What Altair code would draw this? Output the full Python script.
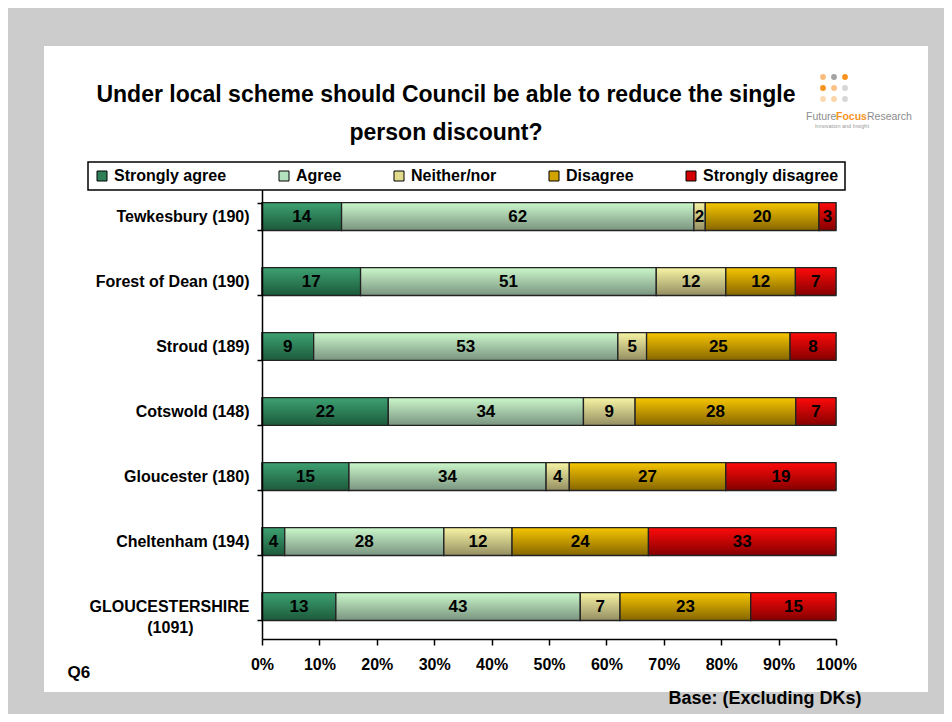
import altair as alt
import pandas as pd

# ---------------- data ----------------
regions = [
    "Tewkesbury (190)",
    "Forest of Dean (190)",
    "Stroud (189)",
    "Cotswold (148)",
    "Gloucester (180)",
    "Cheltenham (194)",
    "GLOUCESTERSHIRE (1091)",
]
responses = ["Strongly agree", "Agree", "Neither/nor", "Disagree", "Strongly disagree"]
strongly_agree = [14, 17, 9, 22, 15, 4, 13]
agree = [62, 51, 53, 34, 34, 28, 43]
neither_nor = [2, 12, 5, 9, 4, 12, 7]
disagree = [20, 12, 25, 28, 27, 24, 23]
strongly_disagree = [3, 7, 8, 7, 19, 33, 15]
x_ticks = [0, 0.1, 0.2, 0.3, 0.4, 0.5, 0.6, 0.7, 0.8, 0.9, 1.0]

title_lines = ["Under local scheme should Council be able to reduce the single", "person discount?"]

# ---------------- styles ----------------
legend_colors = ["#2E8058", "#B4E2BC", "#E2DA8C", "#D2A200", "#D00000"]
grad_top = ["#3DA272", "#CBF8CB", "#F8F5A4", "#F7C600", "#FF0A0A"]
grad_bottom = ["#1C5A3B", "#7A9480", "#948E62", "#866600", "#840000"]
logo_dot_colors = ["#F9BC7A", "#A3A3A3", "#F7941D",
                   "#F7941D", "#FBC283", "#D6D6D6",
                   "#FCDAB2", "#FCD5A8", "#D6D6D6"]
FONT = "Liberation Sans"

series = [strongly_agree, agree, neither_nor, disagree, strongly_disagree]
rows = []
for ri, reg in enumerate(regions):
    for k, resp in enumerate(responses):
        rows.append({"region": reg, "response": resp, "order": k, "value": series[k][ri]})
df = pd.DataFrame(rows)

pad = "\u2002" * 7 + "\u200b"
label_expr = ("datum.value == 'GLOUCESTERSHIRE (1091)' ? ['GLOUCESTERSHIRE', '(1091)" + pad
              + "'] : datum.value")

x_scale = alt.Scale(domain=[0, 1], nice=False, zero=True)
x_axis = alt.Axis(
    format=".0%", values=x_ticks, grid=False, zindex=1, labelFlush=False,
    title="Base: (Excluding DKs)", titleX=599, titleY=64, titleAlign="right",
    titleBaseline="alphabetic", titleFont=FONT, titleFontSize=18, titleFontWeight="bold",
    titleColor="black",
    labelFont=FONT, labelFontSize=16, labelFontWeight="bold", labelColor="black",
    labelPadding=11, tickSize=6, tickColor="black", tickWidth=1.5,
    domainColor="black", domainWidth=1.5,
)
y_axis = alt.Axis(
    title="Q6", titleAngle=0, titleX=-195, titleY=493, titleAlign="left",
    titleBaseline="alphabetic", titleFont=FONT, titleFontSize=17, titleFontWeight="bold",
    titleColor="black", zindex=1,
    labelExpr=label_expr, labelFont=FONT, labelFontSize=16, labelFontWeight="bold",
    labelColor="black", labelPadding=8, labelLimit=300, labelLineHeight=21,
    tickBand="extent", tickSize=5, tickColor="black", tickWidth=1.5,
    domainColor="black", domainWidth=1.5, grid=False,
)
y_enc = alt.Y("region:N", sort=regions,
              scale=alt.Scale(paddingInner=0.57, paddingOuter=0.285), axis=y_axis)

legend = alt.Legend(
    orient="none", legendX=-174, legendY=-22, direction="horizontal", title=None,
    symbolType="square", symbolSize=100, symbolStrokeColor="black", symbolStrokeWidth=1,
    symbolOpacity=1, labelFont=FONT, labelFontSize=16, labelFontWeight="bold",
    labelColor="black", labelOffset=4, columnPadding=49, padding=6,
    strokeColor="black", fillColor="white", labelLimit=300, zindex=2,
)

base = alt.Chart(df).transform_stack(
    stack="value", groupby=["region"],
    sort=[alt.SortField("order", order="ascending")],
    offset="normalize", as_=["x0", "x1"],
).transform_calculate(mid="(datum.x0 + datum.x1) / 2")

one = pd.DataFrame({"k": [0]})

panel = alt.Chart(one).mark_rect(fill="white").encode(
    x=alt.value(-218), x2=alt.value(666), y=alt.value(-138), y2=alt.value(508)
)

legend_layer = base.mark_bar(stroke="#222222", strokeWidth=1).encode(
    x=alt.X("x0:Q", scale=x_scale, axis=x_axis),
    x2="x1:Q",
    y=y_enc,
    color=alt.Color("response:N", scale=alt.Scale(domain=responses, range=legend_colors),
                    legend=legend),
)

grad_layers = []
for k, resp in enumerate(responses):
    grad = alt.LinearGradient(
        gradient="linear",
        stops=[alt.GradientStop(color=grad_top[k], offset=0),
               alt.GradientStop(color=grad_bottom[k], offset=1)],
        x1=0, x2=0, y1=0, y2=1,
    )
    grad_layers.append(
        base.transform_filter(alt.datum.response == resp)
        .mark_bar(fill=grad, stroke="#222222", strokeWidth=1.3)
        .encode(x=alt.X("x0:Q", scale=x_scale, axis=x_axis), x2="x1:Q", y=y_enc)
    )

labels = base.mark_text(font=FONT, fontWeight="bold", fontSize=17, color="black",
                        baseline="middle").encode(
    x=alt.X("mid:Q", scale=x_scale, axis=x_axis),
    y=y_enc,
    text="value:Q",
)

# logo
dots_df = pd.DataFrame({"idx": list(range(9)), "c": logo_dot_colors})
dots = alt.Chart(dots_df).transform_calculate(
    px="561 + (datum.idx % 3) * 11", py="-107 + floor(datum.idx / 3) * 11"
).mark_circle(size=34, opacity=1).encode(
    x=alt.X("px:Q", scale=None), y=alt.Y("py:Q", scale=None),
    color=alt.Color("c:N", scale=None, legend=None),
)
logo_future = alt.Chart(one).mark_text(text="Future", font=FONT, fontSize=10.5, color="#8C8C8C",
                                       align="left", baseline="alphabetic").encode(
    x=alt.value(544), y=alt.value(-64))
logo_focus = alt.Chart(one).mark_text(text="Focus", font=FONT, fontSize=10.5, fontWeight="bold",
                                      color="#F7941D", align="left", baseline="alphabetic").encode(
    x=alt.value(574), y=alt.value(-64))
logo_research = alt.Chart(one).mark_text(text="Research", font=FONT, fontSize=10.5, color="#8C8C8C",
                                         align="left", baseline="alphabetic").encode(
    x=alt.value(605), y=alt.value(-64))
logo_tag = alt.Chart(one).mark_text(text="Innovation and Insight", font=FONT, fontSize=5.5,
                                    color="#9A9A9A", align="center", baseline="alphabetic").encode(
    x=alt.value(580), y=alt.value(-56))

chart = alt.layer(
    panel, legend_layer, *grad_layers, labels,
    dots, logo_future, logo_focus, logo_research, logo_tag,
).properties(
    width=574, height=455,
    background="#CCCCCC",
    autosize=alt.AutoSizeParams(type="none"),
    padding={"left": 254, "top": 176, "right": 108, "bottom": 75},
    title=alt.Title(text=title_lines, font=FONT, fontSize=23, fontWeight="bold", color="black",
                    anchor="middle", frame="group", dx=-103, offset=-99, lineHeight=38),
).configure_view(strokeWidth=0).configure_legend(strokeWidth=1.5)

chart.save("out.html", embed_options={"renderer": "svg", "actions": False})
